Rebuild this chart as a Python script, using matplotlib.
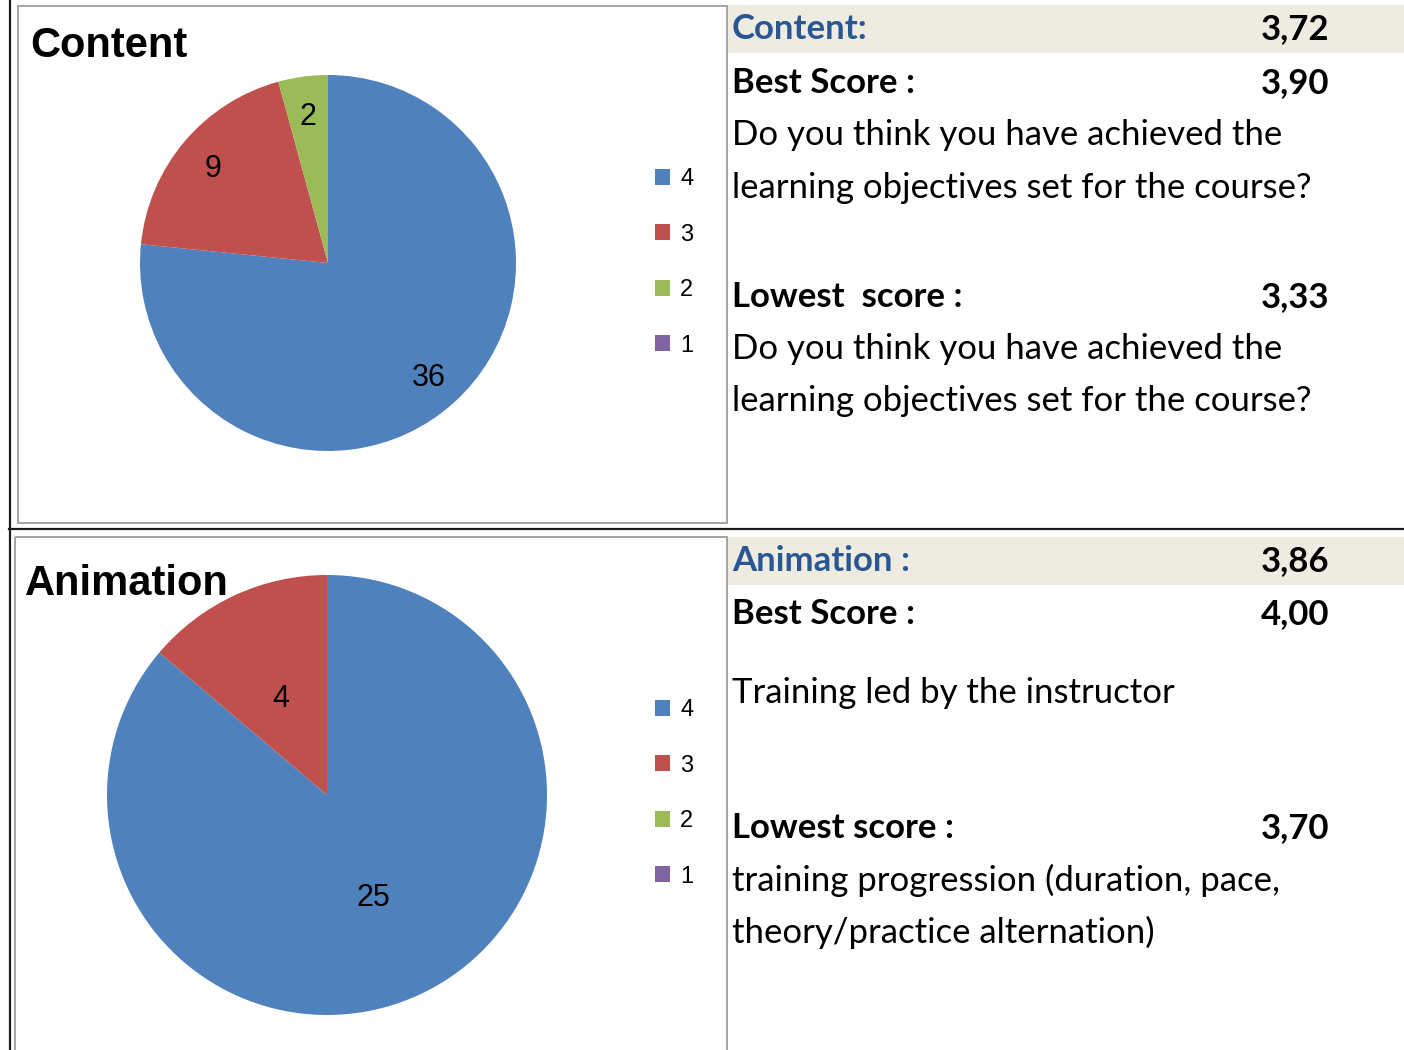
import matplotlib
matplotlib.use("Agg")
import matplotlib.pyplot as plt
from matplotlib.patches import Rectangle

# ---------------- data ----------------
score_labels = ["4", "3", "2", "1"]
content_counts = [36, 9, 2, 0]
animation_counts = [25, 4, 0, 0]
slice_colors = ["#4F81BD", "#C0504D", "#9BBB59", "#8064A2"]

content_title = "Content"
animation_title = "Animation"

content_lines = [
    ("head", "Content:", "3,72"),
    ("bold", "Best Score :", "3,90"),
    ("text", "Do you think you have achieved the", ""),
    ("text", "learning objectives set for the course?", ""),
    ("bold", "Lowest  score :", "3,33"),
    ("text", "Do you think you have achieved the", ""),
    ("text", "learning objectives set for the course?", ""),
]
content_line_y = [29, 83, 135, 188, 297, 349, 401]

animation_lines = [
    ("head", "Animation :", "3,86"),
    ("bold", "Best Score :", "4,00"),
    ("text", "Training led by the instructor", ""),
    ("bold", "Lowest score :", "3,70"),
    ("text", "training progression (duration, pace,", ""),
    ("text", "theory/practice alternation)", ""),
]
animation_line_y = [561, 614, 693, 828, 880, 932]

# ---------------- figure ----------------
W, H = 1404, 1050
fig = plt.figure(figsize=(W / 100, H / 100), dpi=100)
bg = fig.add_axes([0, 0, 1, 1])
bg.set_xlim(0, W)
bg.set_ylim(H, 0)
bg.axis("off")

px = 0.72  # points per pixel

# frames and separators
bg.add_patch(Rectangle((18, 6), 709, 517, fill=False, ec="#A6A6A6", lw=2 * px))
bg.add_patch(Rectangle((15, 537), 712, 530, fill=False, ec="#A6A6A6", lw=2 * px))
bg.plot([9.5, 9.5], [0, H], color="#1A1A1A", lw=2.2 * px)
bg.plot([9, W], [529, 529], color="#1A1A1A", lw=2.2 * px)
bg.add_patch(Rectangle((728, 5), W - 728, 48, color="#EEECE1", lw=0))
bg.add_patch(Rectangle((728, 537), W - 728, 48, color="#EEECE1", lw=0))

TEXT_FONT = ["Lato", "DejaVu Sans"]
BODY_SIZE = 25


def draw_lines(lines, ys):
    for (kind, left, right), y in zip(lines, ys):
        if kind == "head":
            color, weight = "#2A5792", "bold"
        elif kind == "bold":
            color, weight = "black", "bold"
        else:
            color, weight = "black", "normal"
        bg.text(732, y, left, ha="left", va="center", fontsize=BODY_SIZE,
                family=TEXT_FONT, color=color, fontweight=weight)
        if right:
            bg.text(1329, y, right, ha="right", va="center", fontsize=BODY_SIZE,
                    family=TEXT_FONT, color="black", fontweight="bold")


draw_lines(content_lines, content_line_y)
draw_lines(animation_lines, animation_line_y)


def draw_pie(cx, cy, r, counts, title, title_xy, label_dist, legend_xy):
    ax = fig.add_axes([(cx - r) / W, 1 - (cy + r) / H, 2 * r / W, 2 * r / H])
    total = sum(counts)
    wedges, texts, autotexts = ax.pie(
        counts, colors=slice_colors, startangle=90, counterclock=False,
        radius=1.0, pctdistance=label_dist,
        autopct=lambda p: f"{round(p * total / 100)}" if p > 0 else "",
        textprops=dict(fontsize=22, family="Liberation Sans", color="black",
                       va="center_baseline"),
        wedgeprops=dict(linewidth=0),
    )
    ax.set_xlim(-1, 1)
    ax.set_ylim(-1, 1)
    ax.set_aspect("equal")
    ax.axis("off")
    fig.text(title_xy[0] / W, 1 - title_xy[1] / H, title, ha="left", va="center",
             fontsize=30, family="Liberation Sans", fontweight="bold", zorder=5)
    fig.legend(wedges, score_labels, loc="upper left",
               bbox_to_anchor=(legend_xy[0] / W, 1 - legend_xy[1] / H),
               frameon=False, prop=dict(family="Liberation Sans", size=17),
               handlelength=0.64, handleheight=0.64, handletextpad=0.42,
               labelspacing=1.42, borderpad=0, borderaxespad=0)


draw_pie(328, 263, 188, content_counts, content_title, (30, 46), 0.8, (655, 168))
draw_pie(327, 795, 220, animation_counts, animation_title, (25, 584), 0.5, (655, 699))

fig.savefig("out.png", dpi=100)
